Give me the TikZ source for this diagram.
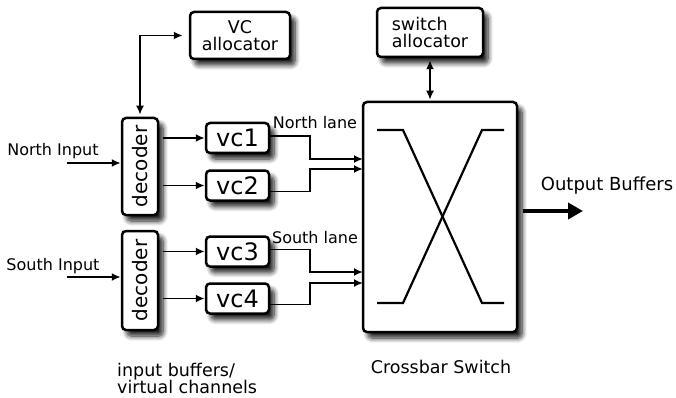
\documentclass[tikz,border=0pt]{standalone}
\usepackage{fontspec}
\setmainfont{DejaVu Sans}
\usetikzlibrary{arrows.meta,shadows.blur,calc}
\begin{document}
\begin{tikzpicture}[x=1pt,y=-1pt,
  box/.style={draw=black, line width=2.5pt, fill=white, rounded corners=4pt, inner sep=0pt,
    blur shadow={shadow xshift=5pt, shadow yshift=-6pt, shadow blur steps=8, shadow blur radius=5pt, shadow opacity=90}},
  arr/.style={line width=1.8pt, -{Latex[length=9pt,width=8pt]}},
  darr/.style={line width=1.8pt, {Latex[length=9pt,width=8pt]}-{Latex[length=9pt,width=8pt]}},
  lbl/.style={inner sep=0pt, font=\fontsize{16}{18}\selectfont},
  big/.style={inner sep=0pt, font=\fontsize{17.5}{17}\selectfont},
  vcf/.style={font=\fontsize{24}{24}\selectfont}
]
\useasboundingbox (0,0) rectangle (676,398);

% allocators
\node[box, big, minimum width=100, minimum height=47, align=center] (vca) at (240,35.5) {VC\\allocator};
\node[box, big, minimum width=106, minimum height=49, align=left] (sa) at (430,32.5) {switch\\allocator};

% decoders
\node[box, minimum width=36, minimum height=97] (dec1) at (140,166.5) {};
\node[rotate=90, font=\fontsize{20}{20}\selectfont] at (dec1) {decoder};
\node[box, minimum width=36, minimum height=99] (dec2) at (140,280.5) {};
\node[rotate=90, font=\fontsize{20}{20}\selectfont] at (dec2) {decoder};

% vcs
\node[box, vcf, minimum width=63, minimum height=30] (vc1) at (237.5,138) {vc1};
\node[box, vcf, minimum width=63, minimum height=30] (vc2) at (237.5,185.5) {vc2};
\node[box, vcf, minimum width=63, minimum height=30] (vc3) at (237.5,251.5) {vc3};
\node[box, vcf, minimum width=63, minimum height=30] (vc4) at (237.5,298.5) {vc4};

% crossbar
\node[box, minimum width=154, minimum height=230] (xbar) at (440,217) {};
\draw[line width=2.2pt] (377,130) -- (403,130) -- (482,303) -- (504,303);
\draw[line width=2.2pt] (504,130) -- (482,130) -- (403,303) -- (377,303);

% labels
\node[lbl] (nin) at (53,151) {North Input};
\node[lbl] (sin) at (53,266) {South Input};
\node[lbl] (nl) at (315,123) {North lane};
\node[lbl] (sl) at (315,238) {South lane};
\node[big, font=\fontsize{18}{18}\selectfont] (obt) at (607,186) {Output Buffers};
\node[big] (cst) at (441,367) {Crossbar Switch};
\node[big, align=left, anchor=west] (ibt) at (117,378) {input buffers/\\virtual channels};

% coordinates
\coordinate (ni) at (67,163);
\coordinate (si) at (67,277);
\coordinate (n1) at (363,159);
\coordinate (n2) at (363,169);
\coordinate (s1) at (363,272);
\coordinate (s2) at (363,283);
\coordinate (ob) at (583,211);
\coordinate (obs) at (523,211);

% connectors
\draw[darr, shorten >=6pt, shorten <=2pt] (dec1.north) |- (vca.west);
\draw[darr, shorten >=1pt, shorten <=2pt] (sa.south) -- (sa.south |- xbar.north);
\draw[arr] (ni) -- (ni -| dec1.west);
\draw[arr] (si) -- (si -| dec2.west);
\draw[arr, shorten <=4pt] (vc1 -| dec1.east) -- (vc1.west);
\draw[arr, shorten <=4pt] (vc2 -| dec1.east) -- (vc2.west);
\draw[arr, shorten <=4pt] (vc3 -| dec2.east) -- (vc3.west);
\draw[arr, shorten <=4pt] (vc4 -| dec2.east) -- (vc4.west);
\draw[arr] ([yshift=2pt]vc1.east) -- ++(40,0) |- (n1);
\draw[arr] ([yshift=-6pt]vc2.east) -- ++(40,0) |- (n2);
\draw[arr] ([yshift=2pt]vc3.east) -- ++(40,0) |- (s1);
\draw[arr] ([yshift=-6pt]vc4.east) -- ++(40,0) |- (s2);
\draw[line width=4pt, -{Triangle[length=15pt,width=16pt]}] (obs) -- (ob);
\end{tikzpicture}
\end{document}
